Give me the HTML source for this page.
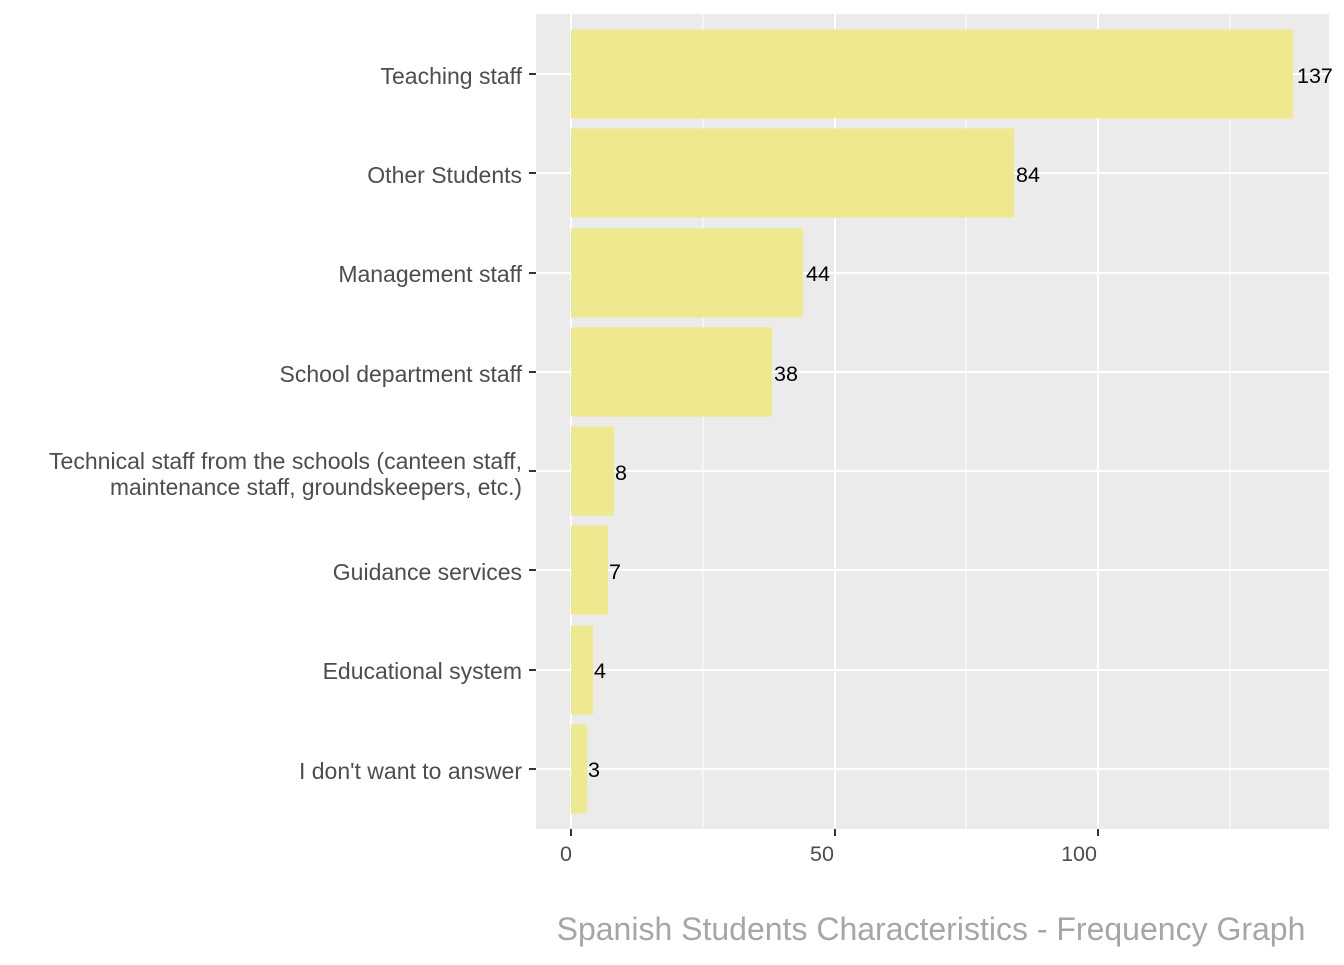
<!DOCTYPE html>
<html><head><meta charset="utf-8"><style>
body{margin:0;background:#fff}
svg text{font-family:"Liberation Sans",Arial,sans-serif}
</style></head><body>
<svg width="1344" height="960" xmlns="http://www.w3.org/2000/svg">
<rect x="536" y="14" width="793" height="815" fill="#EBEBEB"/>
<g stroke="#fff" stroke-width="1">
<line x1="703" y1="14" x2="703" y2="829"/><line x1="966" y1="14" x2="966" y2="829"/><line x1="1230" y1="14" x2="1230" y2="829"/>
</g>
<g stroke="#fff" stroke-width="2">
<line x1="571" y1="14" x2="571" y2="829"/><line x1="835" y1="14" x2="835" y2="829"/><line x1="1098" y1="14" x2="1098" y2="829"/>
<line x1="536" y1="74" x2="1329" y2="74"/><line x1="536" y1="173" x2="1329" y2="173"/><line x1="536" y1="273" x2="1329" y2="273"/><line x1="536" y1="372" x2="1329" y2="372"/><line x1="536" y1="471" x2="1329" y2="471"/><line x1="536" y1="570" x2="1329" y2="570"/><line x1="536" y1="670" x2="1329" y2="670"/><line x1="536" y1="769" x2="1329" y2="769"/>
</g>
<g fill="#EEE88E">
<rect x="571" y="29.5" width="722" height="89"/>
<rect x="571" y="128.5" width="443" height="89"/>
<rect x="571" y="228.5" width="232" height="89"/>
<rect x="571" y="327.5" width="201" height="89"/>
<rect x="571" y="426.5" width="43" height="89"/>
<rect x="571" y="525.5" width="37" height="89"/>
<rect x="571" y="625.5" width="22" height="89"/>
<rect x="571" y="724.5" width="16" height="89"/>
</g>
<g font-size="21.5" fill="#000" dominant-baseline="central">
<text x="1297" y="76">137</text><text x="1016" y="175">84</text><text x="806" y="274">44</text><text x="774" y="374">38</text><text x="615" y="473">8</text><text x="609" y="572">7</text><text x="594" y="671">4</text><text x="588" y="770">3</text>
</g>
<g stroke="#333" stroke-width="2">
<line x1="529" y1="74" x2="536" y2="74"/><line x1="529" y1="173" x2="536" y2="173"/><line x1="529" y1="273" x2="536" y2="273"/><line x1="529" y1="372" x2="536" y2="372"/><line x1="529" y1="471" x2="536" y2="471"/><line x1="529" y1="570" x2="536" y2="570"/><line x1="529" y1="670" x2="536" y2="670"/><line x1="529" y1="769" x2="536" y2="769"/>
<line x1="571" y1="829" x2="571" y2="836"/><line x1="835" y1="829" x2="835" y2="836"/><line x1="1098" y1="829" x2="1098" y2="836"/>
</g>
<g font-size="23" fill="#4D4D4D" text-anchor="end" dominant-baseline="central">
<text x="522" y="76">Teaching staff</text>
<text x="522" y="175">Other Students</text>
<text x="522" y="274">Management staff</text>
<text x="522" y="374">School department staff</text>
<text x="522" y="461" textLength="473" lengthAdjust="spacingAndGlyphs">Technical staff from the schools (canteen staff,</text>
<text x="522" y="487" textLength="412" lengthAdjust="spacingAndGlyphs">maintenance staff, groundskeepers, etc.)</text>
<text x="522" y="572">Guidance services</text>
<text x="522" y="671">Educational system</text>
<text x="522" y="771">I don't want to answer</text>
</g>
<g font-size="21.5" fill="#4D4D4D" text-anchor="middle">
<text x="566" y="861">0</text><text x="822" y="861">50</text><text x="1079" y="861">100</text>
</g>
<text x="931" y="940" font-size="32" fill="#A6A6A6" text-anchor="middle">Spanish Students Characteristics - Frequency Graph</text>
</svg>
</body></html>
